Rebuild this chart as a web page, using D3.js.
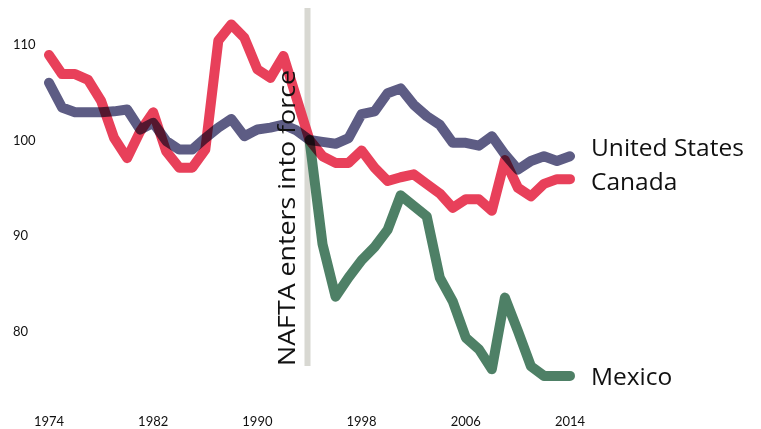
<!DOCTYPE html>
<html>
<head>
<meta charset="utf-8">
<script src="https://cdn.jsdelivr.net/npm/d3@7"></script>
<style>
  html, body { margin: 0; padding: 0; background: #fff; }
  svg { display: block; }
  text { font-family: Lato, "Open Sans", sans-serif; fill: #111; }
  .lbl { font-family: "Open Sans", Lato, sans-serif; }
</style>
</head>
<body>
<svg id="chart" width="761" height="429"></svg>
<script>
const years = d3.range(1974, 2015);
const usValues = [106.0, 103.4, 102.9, 102.9, 102.9, 103.0, 103.2, 101.1, 101.8, 99.9,
  99.0, 99.0, 100.2, 101.3, 102.2, 100.4, 101.1, 101.3, 101.6, 101.0,
  100.0, 99.8, 99.6, 100.2, 102.7, 103.0, 104.9, 105.4, 103.7, 102.5,
  101.6, 99.7, 99.7, 99.4, 100.4, 98.5, 96.9, 97.8, 98.3, 97.8, 98.3];
const canadaValues = [108.9, 106.9, 106.9, 106.3, 104.1, 100.2, 98.1, 100.9, 102.9, 98.8,
  97.1, 97.1, 99.0, 110.4, 112.1, 110.7, 107.4, 106.5, 108.8, 104.4,
  100.0, 98.3, 97.6, 97.6, 98.9, 97.1, 95.7, 96.1, 96.4, 95.4,
  94.4, 92.9, 93.8, 93.8, 92.6, 97.9, 95.0, 94.1, 95.4, 95.9, 95.9];
const mexicoYears = d3.range(1994, 2015);
const mexicoValues = [100.0, 89.1, 83.6, 85.6, 87.4, 88.8, 90.6, 94.2, 93.1, 92.0,
  85.6, 83.1, 79.3, 78.1, 76.0, 83.5, 80.0, 76.3, 75.3, 75.3, 75.3];
const yTicks = [80, 90, 100, 110];
const xTicks = [1974, 1982, 1990, 1998, 2006, 2014];
const seriesNames = ["United States", "Canada", "Mexico"];
const seriesColors = ["#5d5c84", "#e8405a", "#4e8066"];
const naftaYear = 1994;
const naftaLabel = "NAFTA enters into force";

const svg = d3.select("#chart");
const x = d3.scaleLinear().domain([1974, 2014]).range([49, 570]);
const y = d3.scaleLinear().domain([80, 110]).range([331, 44.5]);

// y tick labels
svg.append("g").selectAll("text").data(yTicks).join("text")
  .attr("x", 13).attr("y", d => y(d)).attr("dy", "0.35em")
  .attr("font-size", 13).text(d => d);

// x tick labels
svg.append("g").selectAll("text").data(xTicks).join("text")
  .attr("x", d => x(d)).attr("y", 421).attr("dy", "0.35em")
  .attr("text-anchor", "middle").attr("font-size", 13).text(d => d);

// NAFTA line
svg.append("line")
  .attr("x1", x(naftaYear) - 2).attr("x2", x(naftaYear) - 2)
  .attr("y1", 8).attr("y2", 366)
  .attr("stroke", "#d8d8d2").attr("stroke-width", 6);

const data = [
  { name: seriesNames[0], color: seriesColors[0], pts: years.map((yr, i) => [yr, usValues[i]]) },
  { name: seriesNames[1], color: seriesColors[1], pts: years.map((yr, i) => [yr, canadaValues[i]]) },
  { name: seriesNames[2], color: seriesColors[2], pts: mexicoYears.map((yr, i) => [yr, mexicoValues[i]]) }
];

const line = d3.line().x(d => x(d[0])).y(d => y(d[1]));

const lg = svg.append("g").style("isolation", "isolate");
lg.selectAll("path").data(data).join("path")
  .attr("d", d => line(d.pts))
  .attr("fill", "none")
  .attr("stroke", d => d.color)
  .attr("stroke-width", 10)
  .attr("stroke-linejoin", "round")
  .attr("stroke-linecap", "round")
  .style("mix-blend-mode", "multiply");

svg.append("text").attr("class", "lbl")
  .attr("transform", `translate(${x(naftaYear) - 15},366) rotate(-90)`)
  .attr("font-size", 23).attr("textLength", 296).attr("lengthAdjust", "spacingAndGlyphs")
  .text(naftaLabel);

// series labels
const labelOffsets = { "United States": -9, "Canada": 2, "Mexico": 1 };
svg.append("g").selectAll("text").data(data).join("text").attr("class", "lbl")
  .attr("x", d => x(2014) + 21)
  .attr("y", d => y(d.pts[d.pts.length - 1][1]) + labelOffsets[d.name])
  .attr("dy", "0.35em")
  .attr("font-size", 24.5).text(d => d.name);
</script>
</body>
</html>
